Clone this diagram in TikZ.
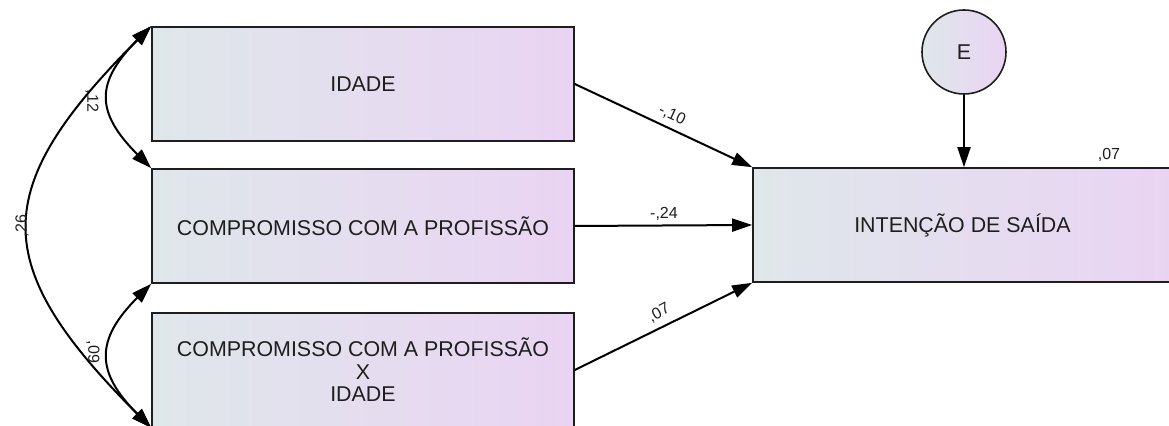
\documentclass[tikz,border=0pt]{standalone}
\usepackage{fontspec}
\setmainfont{Liberation Sans}
\usetikzlibrary{arrows.meta}
\definecolor{boxleft}{HTML}{DFE7EA}
\definecolor{boxright}{HTML}{EAD4F3}
\definecolor{ink}{HTML}{1E1E1E}
\tikzset{
  var/.style={draw=ink, line width=0.8pt, left color=boxleft, right color=boxright,
    minimum width=211pt, minimum height=57pt, inner sep=0pt, align=center,
    text=ink, font=\fontsize{10.7}{10.6}\selectfont},
  err/.style={draw=ink, line width=0.8pt, circle, shading=axis, shading angle=-45,
    left color=boxleft, right color=boxright, minimum size=42pt, inner sep=0pt,
    text=ink, font=\fontsize{10.7}{12}\selectfont},
  tip/.style={-{Triangle[length=10pt,width=6.5pt]}},
  both/.style={{Triangle[length=10pt,width=6.5pt]}-{Triangle[length=10pt,width=6.5pt]}},
  conn/.style={line width=1pt, draw=black},
  coef/.style={text=ink, font=\fontsize{8}{9}\selectfont, inner sep=0pt},
}
\begin{document}
\begin{tikzpicture}[x=0.5pt, y=-0.5pt]
\path[use as bounding box] (0,0) rectangle (1169,426);

% observed variables
\node[var] (idade) at (363,84) {IDADE};
\node[var] (comp)  at (363,226) {COMPROMISSO COM A PROFISSÃO};
\node[var] (inter) at (363,370) {COMPROMISSO COM A PROFISSÃO\\[0.6pt]X\\[0.6pt]IDADE};
\node[var, minimum width=209.5pt] (saida) at (962.5,225) {INTENÇÃO DE SAÍDA};

% error term
\node[err] (e) at (964,52) {E};

% regression paths
\draw[conn, tip] (idade.east) -- (saida.north west);
\draw[conn, tip] (comp.east) -- (saida.west);
\draw[conn, tip] (inter.east) -- (saida.south west);
\draw[conn, tip] (e) -- (e |- saida.north);

% covariances
\draw[conn, both] (idade.north west) .. controls +(-56,56) and +(-56,-56) .. (comp.north west);
\draw[conn, both] (idade.north west) .. controls +(-163,163) and +(-163,-163) .. (inter.south west);
\draw[conn, both] (comp.south west) .. controls +(-56,56) and +(-56,-56) .. (inter.south west);

% coefficients
\node[coef, rotate=-90] (c12) at (92,101) {,12};
\node[coef, rotate=90]  (c26) at (22,226) {,26};
\node[coef, rotate=-90] (c09) at (93,352) {,09};
\node[coef, rotate=-25] (p10) at (672,115) {-,10};
\node[coef] (p24) at (664,214) {-,24};
\node[coef, rotate=28] (p07) at (659,313) {,07};
\node[coef] (r2) at (1109,155) {,07};
\end{tikzpicture}
\end{document}
